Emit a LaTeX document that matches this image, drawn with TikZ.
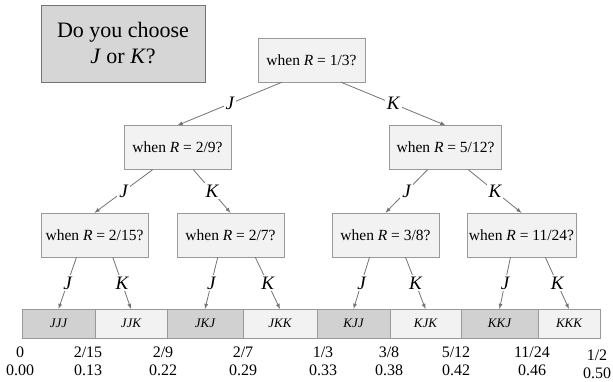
\documentclass[tikz,border=0pt]{standalone}
\usepackage{fontspec}
\setmainfont{Liberation Serif}
\usetikzlibrary{calc}

\definecolor{boxgray}{gray}{0.95}
\definecolor{titlegray}{gray}{0.84}
\definecolor{cellgray}{gray}{0.82}
\definecolor{linegray}{gray}{0.45}

\tikzset{
    askbox/.style={draw=black!40, fill=boxgray, minimum width=107pt, minimum height=44pt,
        inner xsep=2pt, font=\fontsize{15.5}{18}\selectfont},
    choice/.style={fill=white, inner sep=2pt, font=\fontsize{19}{22}\selectfont\itshape},
    cell/.style={draw=black!40, minimum height=29pt, inner sep=0pt, outer sep=0pt,
        font=\fontsize{13}{15}\selectfont\itshape},
    link/.style={draw=linegray, line width=.8pt, -latex},
    spread/.style={edge from parent path={let \p1=(\tikzparentnode.south),
        \p2=(\tikzchildnode.north) in ({\x1+#1*(\x2-\x1)},\y1) -- (\p2)}},
}

\begin{document}
\begin{tikzpicture}[x=1pt, y=1pt, edge from parent/.style={link}]
\useasboundingbox (0,0) rectangle (613,-381);

\node[draw=black!55, fill=titlegray, minimum width=164pt, minimum height=77pt, align=center,
    font=\fontsize{22}{26}\selectfont] (title) at (123,-43.5)
    {Do you choose\\\textit{J} or \textit{K}?};

\node[askbox] (r) at (311.5,-60) {when \textit{R} = 1/3?}
    [level distance=87.5pt]
    [level 1/.style={sibling distance=268pt, xshift=3.5pt, spread=.22}]
    [level 2/.style={sibling distance=136pt, spread=.3}]
    child
    {
        node[askbox] (j) {when \textit{R} = 2/9?}
        child[xshift=-15pt]
        {
            node[askbox] (jj) {when \textit{R} = 2/15?}
            edge from parent node[choice, pos=.5] {J}
        }
        child[xshift=-15pt]
        {
            node[askbox] (jk) {when \textit{R} = 2/7?}
            edge from parent node[choice, pos=.5] {K}
        }
        edge from parent node[choice, pos=.5] {J}
    }
    child
    {
        node[askbox, minimum width=112pt] (k) {when \textit{R} = 5/12?}
        child[xshift=8pt]
        {
            node[askbox] (kj) {when \textit{R} = 3/8?}
            edge from parent node[choice, pos=.5] {J}
        }
        child[xshift=8pt]
        {
            node[askbox] (kk) {when \textit{R} = 11/24?}
            edge from parent node[choice, pos=.5] {K}
        }
        edge from parent node[choice, pos=.5] {K}
    };

% the outcome bar
\foreach \a/\b/\t/\f [count=\i] in {22/95/JJJ/cellgray, 95/167/JJK/boxgray,
    167/243/JKJ/cellgray, 243/317/JKK/boxgray, 317/390/KJJ/cellgray,
    390/461/KJK/boxgray, 461/538/KKJ/cellgray, 538/600/KKK/boxgray}
{
    \pgfmathsetmacro\w{\b-\a}
    \node[cell, fill=\f, minimum width=\w pt] (c\i) at ({(\a+\b)/2},-323.5) {\t};
}

\foreach \src/\i/\t in {jj/1/J, jj/2/K, jk/3/J, jk/4/K, kj/5/J, kj/6/K, kk/7/J, kk/8/K}
    \draw[link] let \p1=(\src.south), \p2=(c\i.north) in ({.5*\x1+.5*\x2},\y1) -- (\p2)
        node[choice, pos=.5] {\t};

% values of R at the cuts
\foreach \x/\f/\d [count=\i] in {20/0/0.00, 88/{2/15}/0.13, 163/{2/9}/0.22, 243/{2/7}/0.29,
    323/{1/3}/0.33, 389/{3/8}/0.38, 456/{5/12}/0.42, 532/{11/24}/0.46}
    \node[align=center, inner sep=0pt, font=\fontsize{16}{18}\selectfont] (v\i) at (\x,-361) {\f\\\d};
\node[align=center, inner sep=0pt, font=\fontsize{16}{18}\selectfont] (v9) at (597,-364) {1/2\\0.50};

\end{tikzpicture}
\end{document}
